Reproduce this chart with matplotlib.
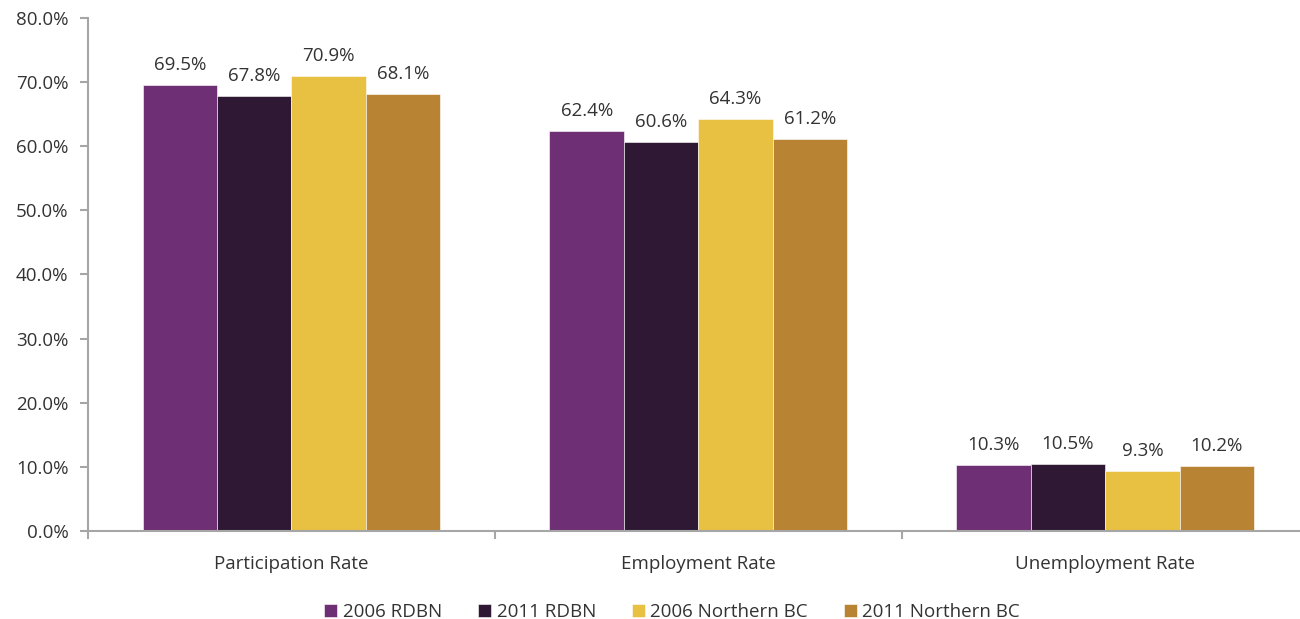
import matplotlib.pyplot as plt
import numpy as np
from matplotlib.ticker import FuncFormatter

plt.rcParams['font.family'] = ['Open Sans', 'DejaVu Sans']

# data set
categories = ['Participation Rate', 'Employment Rate', 'Unemployment Rate']
series_names = ['2006 RDBN', '2011 RDBN', '2006 Northern BC', '2011 Northern BC']
rdbn_2006 = [69.5, 62.4, 10.3]
rdbn_2011 = [67.8, 60.6, 10.5]
nbc_2006 = [70.9, 64.3, 9.3]
nbc_2011 = [68.1, 61.2, 10.2]

colors = ['#6E2F74', '#2E1834', '#E8C042', '#B88333']
text_color = '#333333'
axis_color = '#A6A6A6'

fig = plt.figure(figsize=(13, 6.19), dpi=100)
ax = fig.add_axes([0.0677, 0.1422, 0.939, 0.8288])

x = np.arange(len(categories))
width = 0.183
all_series = [rdbn_2006, rdbn_2011, nbc_2006, nbc_2011]
for i, vals in enumerate(all_series):
    pos = x + (i - 1.5) * width
    bars = ax.bar(pos, vals, width, color=colors[i], label=series_names[i],
                  edgecolor='#ffffff', linewidth=0.4)
    for b, v in zip(bars, vals):
        ax.text(b.get_x() + b.get_width() / 2, v + 1.7, f'{v:.1f}%',
                ha='center', va='bottom', fontsize=13.5, color=text_color)

ax.set_xlim(-0.5, 2.5)
ax.set_ylim(0, 80)
ax.set_yticks(np.arange(0, 81, 10))
ax.yaxis.set_major_formatter(FuncFormatter(lambda v, p: f'{v:.1f}%'))
ax.set_xticks(x)
ax.set_xticklabels(categories)
ax.set_xticks([-0.5, 0.5, 1.5, 2.5], minor=True)

for s in ['top', 'right']:
    ax.spines[s].set_visible(False)
for s in ['left', 'bottom']:
    ax.spines[s].set_color(axis_color)
    ax.spines[s].set_linewidth(1.5)

ax.tick_params(axis='y', direction='out', length=6, width=1.5, color=axis_color,
               labelsize=13.5, labelcolor=text_color, pad=8)
ax.tick_params(axis='x', which='major', length=0, labelsize=13.5, labelcolor=text_color, pad=17)
ax.tick_params(axis='x', which='minor', direction='out', length=6, width=1.5, color=axis_color)

leg = fig.legend(loc='lower center', bbox_to_anchor=(0.517, -0.03), ncol=4, frameon=False,
                 fontsize=13.5, handlelength=0.7, handleheight=0.7, handletextpad=0.3,
                 columnspacing=1.9)
for t in leg.get_texts():
    t.set_color(text_color)

plt.savefig('out.png', dpi=100)
